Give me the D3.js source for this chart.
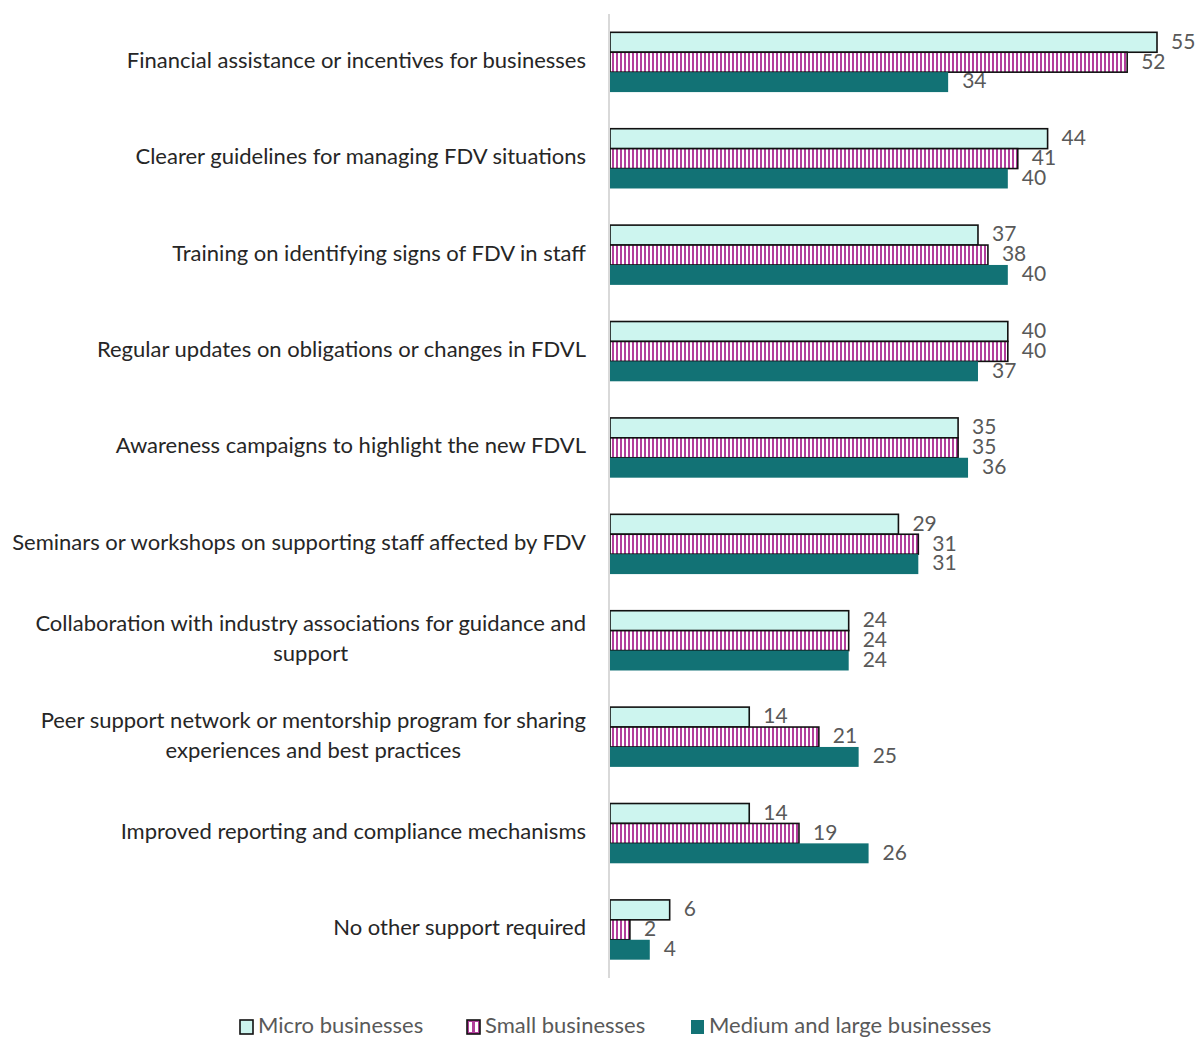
<!DOCTYPE html>
<html>
<head>
<meta charset="utf-8">
<script src="https://cdn.jsdelivr.net/npm/d3@7"></script>
<style>
  body { margin: 0; background: #fff; }
  svg { display: block; }
</style>
</head>
<body>
<svg id="chart" width="1199" height="1039"></svg>
<script>
// Support measures wanted, by business size (% of respondents)
const categories = [
  "Financial assistance or incentives for businesses",
  "Clearer guidelines for managing FDV situations",
  "Training on identifying signs of FDV in staff",
  "Regular updates on obligations or changes in FDVL",
  "Awareness campaigns to highlight the new FDVL",
  "Seminars or workshops on supporting staff affected by FDV",
  "Collaboration with industry associations for guidance and|support",
  "Peer support network or mentorship program for sharing|experiences and best practices",
  "Improved reporting and compliance mechanisms",
  "No other support required"
];
const seriesNames = ["Micro businesses", "Small businesses", "Medium and large businesses"];
const micro = [55, 44, 37, 40, 35, 29, 24, 14, 14, 6];
const small = [52, 41, 38, 40, 35, 31, 24, 21, 19, 2];
const mediumLarge = [34, 40, 40, 37, 36, 31, 24, 25, 26, 4];

const seriesValues = [micro, small, mediumLarge];
const FONT = "Lato, 'Open Sans', sans-serif";

const svg = d3.select("#chart");
const defs = svg.append("defs");
const hatch = defs.append("pattern")
  .attr("id", "vstripe")
  .attr("patternUnits", "userSpaceOnUse")
  .attr("width", 4).attr("height", 4);
hatch.append("rect").attr("width", 4).attr("height", 4).attr("fill", "#fff");
hatch.append("rect").attr("x", 0).attr("width", 2).attr("height", 4).attr("fill", "#b23f9c");

const styles = [
  { fill: "#cdf5ef", stroke: "#111", sw: 1.6 },
  { fill: "url(#vstripe)", stroke: "#111", sw: 1.6 },
  { fill: "#127275", stroke: "none", sw: 0 }
];

const x0 = 610, plotTop = 14, plotBottom = 978;
const x = d3.scaleLinear().domain([0, 55]).range([x0, 1157]);
const y = d3.scaleBand().domain(d3.range(categories.length)).range([plotTop, plotBottom]).paddingInner(0.38).paddingOuter(0.19);
const ySub = d3.scaleBand().domain(d3.range(3)).range([0, y.bandwidth()]);

// bars with value labels
seriesValues.forEach((vals, s) => {
  const g = svg.append("g");
  g.selectAll("rect").data(vals).join("rect")
    .attr("x", x(0))
    .attr("y", (d, i) => y(i) + ySub(s))
    .attr("width", d => x(d) - x(0))
    .attr("height", ySub.bandwidth())
    .attr("fill", styles[s].fill)
    .attr("stroke", styles[s].stroke)
    .attr("stroke-width", styles[s].sw);
  g.selectAll("text").data(vals).join("text")
    .attr("x", d => x(d) + 14)
    .attr("y", (d, i) => y(i) + ySub(s) + ySub.bandwidth() / 2 + 1)
    .attr("dominant-baseline", "middle")
    .attr("font-family", FONT)
    .attr("font-size", 21)
    .attr("fill", "#595959")
    .text(d => d);
});

// category axis line
svg.append("line")
  .attr("x1", 609).attr("x2", 609)
  .attr("y1", plotTop).attr("y2", plotBottom)
  .attr("stroke", "#d9d9d9").attr("stroke-width", 2);

// category labels (wrapped ones are centred on their block)
const labelRight = 586;
categories.forEach((c, i) => {
  const lines = c.split("|");
  const cy = y(i) + y.bandwidth() / 2;
  const t = svg.append("text")
    .attr("font-family", FONT)
    .attr("font-size", 22)
    .attr("fill", "#262626");
  if (lines.length === 1) {
    t.attr("x", labelRight).attr("y", cy).attr("text-anchor", "end")
      .attr("dominant-baseline", "middle").text(c);
  } else {
    const lh = 30;
    lines.forEach((ln, k) => {
      t.append("tspan").text(ln)
        .attr("y", cy + (k - (lines.length - 1) / 2) * lh)
        .attr("dominant-baseline", "middle");
    });
    const widths = [];
    t.selectAll("tspan").each(function () { widths.push(this.getComputedTextLength()); });
    const mw = d3.max(widths);
    t.selectAll("tspan").attr("x", labelRight - mw / 2).attr("text-anchor", "middle");
  }
});

// legend
const legendX = [240, 467, 691];
seriesNames.forEach((n, s) => {
  const g = svg.append("g").attr("transform", `translate(${legendX[s]},1026)`);
  g.append("rect").attr("x", 0).attr("y", -6).attr("width", 13).attr("height", 14)
    .attr("fill", s === 1 ? "#b23f9c" : styles[s].fill)
    .attr("stroke", styles[s].stroke === "none" ? "none" : "#111")
    .attr("stroke-width", 1.6);
  if (s === 1) {
    g.append("rect").attr("x", 2).attr("y", -4).attr("width", 3).attr("height", 10).attr("fill", "#fff");
    g.append("rect").attr("x", 8).attr("y", -4).attr("width", 3).attr("height", 10).attr("fill", "#fff");
  }
  g.append("text").attr("x", 18).attr("y", 1)
    .attr("dominant-baseline", "middle")
    .attr("font-family", FONT).attr("font-size", 22)
    .attr("fill", "#595959").text(n);
});
</script>
</body>
</html>
